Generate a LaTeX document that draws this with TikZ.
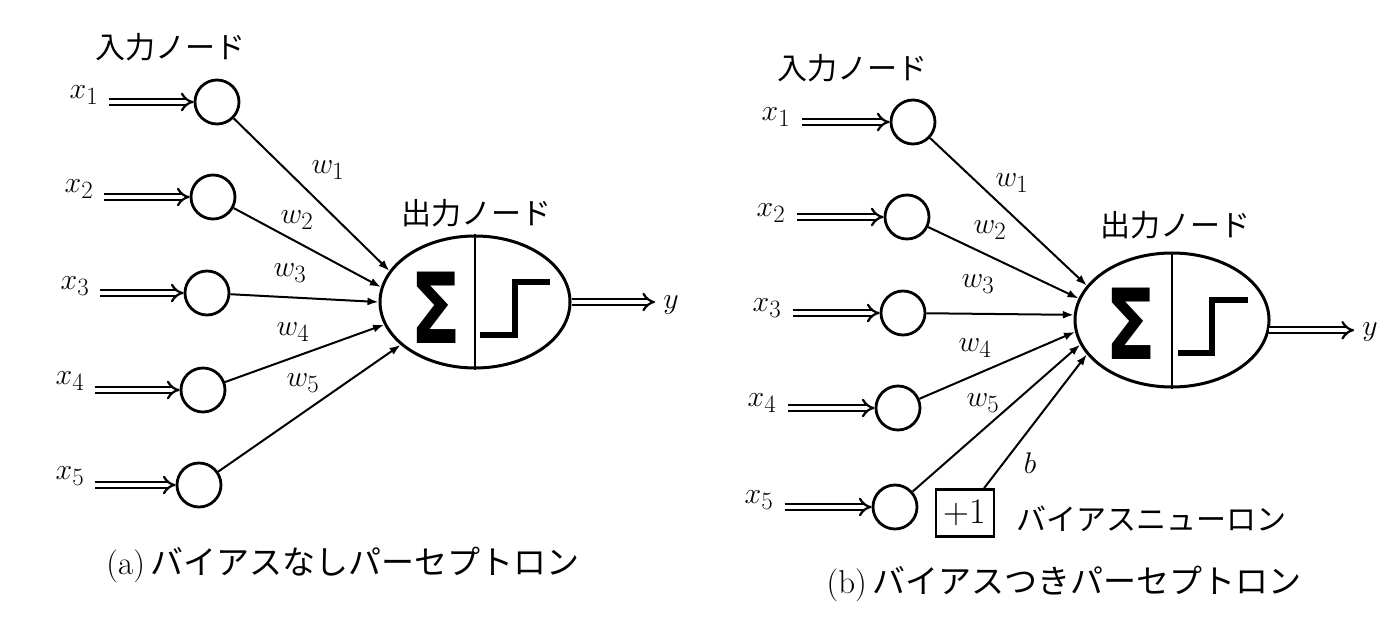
\documentclass[tikz,border=0pt]{standalone}
\usepackage{fontspec}
\newfontfamily\jp{Noto Sans CJK JP}
\newfontfamily\dvs{DejaVu Sans}
\usetikzlibrary{arrows.meta,shapes.geometric}
\begin{document}
\begin{tikzpicture}[x=1pt,y=-1pt,
 inp/.style={circle, draw, line width=2.8pt, minimum size=44pt, inner sep=0pt},
 outn/.style={ellipse, draw, line width=3pt, inner sep=0pt},
 wt/.style={arrows={-Latex[length=11pt,width=8pt]}, line width=2pt},
 dbl/.style={double, double distance=4pt, line width=2.2pt, arrows={-Implies}},
 mlab/.style={inner sep=0pt, font=\fontsize{24.88}{30}\selectfont, scale=1.2},
 jlab/.style={inner sep=0pt, font=\jp\fontsize{30}{36}\selectfont},
 captxt/.style={inner sep=0pt, font=\fontsize{33}{40}\selectfont},
 stepfn/.style={line width=6.5pt, line join=miter},
 sig/.style={inner sep=0pt, font=\dvs\bfseries\fontsize{98}{110}\selectfont, xscale=0.76},
 divl/.style={line width=2pt}
]
\useasboundingbox (0,0) rectangle (1388,628);

% ---------------- (a) ----------------
\node[jlab] (inA) at (170,47) {入力ノード};
\node[jlab] (outA) at (476,213) {出力ノード};

\node[inp] (a1) at (217,102) {};
\node[inp] (a2) at (213,197) {};
\node[inp] (a3) at (207,293) {};
\node[inp] (a4) at (203,390) {};
\node[inp] (a5) at (199,485) {};

\node[mlab] (xa1) at (84,95) {$x_1$};
\node[mlab] (xa2) at (79,189) {$x_2$};
\node[mlab] (xa3) at (75,286) {$x_3$};
\node[mlab] (xa4) at (70,381) {$x_4$};
\node[mlab] (xa5) at (70,476) {$x_5$};

\foreach \i in {1,...,5}{
  \draw[dbl, shorten <=10pt] (xa\i.east |- a\i.west) -- (a\i.west);
}

\node[outn, minimum width=190pt, minimum height=132pt] (EA) at (475,302) {};
\draw[divl] (EA.north) -- (EA.south);
\node[sig] (sA) at (436,308) {Σ};
\draw[stepfn] (480,335) -- (515,335) -- (515,282) -- (550,282);

\draw[wt] (a1) -- (EA.160);
\draw[wt] (a2) -- (EA.171);
\draw[wt] (a3) -- (EA.180);
\draw[wt] (a4) -- (EA.194);
\draw[wt] (a5) -- (EA.210);

\node[mlab] (wa1) at (328,170) {$w_1$};
\node[mlab] (wa2) at (297,220) {$w_2$};
\node[mlab] (wa3) at (290,273) {$w_3$};
\node[mlab] (wa4) at (293,332) {$w_4$};
\node[mlab] (wa5) at (303,383) {$w_5$};

\node[mlab] (yA) at (671,305) {$y$};
\draw[dbl, shorten >=8pt] (EA.east) -- (EA.east -| yA.west);

\node[captxt] (capA) at (343,565) {(a)\,{\jp バイアスなしパーセプトロン}};

% ---------------- (b) ----------------
\node[jlab] (inB) at (852,68) {入力ノード};
\node[jlab] (outB) at (1175,225) {出力ノード};

\node[inp] (b1) at (913,122) {};
\node[inp] (b2) at (907,217) {};
\node[inp] (b3) at (903,313) {};
\node[inp] (b4) at (898,408) {};
\node[inp] (b5) at (895,507) {};

\node[mlab] (xb1) at (776,117) {$x_1$};
\node[mlab] (xb2) at (771,213) {$x_2$};
\node[mlab] (xb3) at (767,308) {$x_3$};
\node[mlab] (xb4) at (762,403) {$x_4$};
\node[mlab] (xb5) at (759,500) {$x_5$};

\foreach \i in {1,...,5}{
  \draw[dbl, shorten <=11pt] (xb\i.east |- b\i.west) -- (b\i.west);
}

\node[outn, minimum width=194pt, minimum height=134pt] (EB) at (1172,320) {};
\draw[divl] (EB.north) -- (EB.south);
\node[sig] (sB) at (1131,324) {Σ};
\draw[stepfn] (1178,353) -- (1212,353) -- (1212,300) -- (1248,300);

\node[draw, line width=2.6pt, minimum width=58pt, minimum height=47pt, inner sep=0pt,
      font=\fontsize{36}{40}\selectfont] (bias) at (965,513) {+1};
\node[jlab, anchor=west] (biasl) at (1016,519) {バイアスニューロン};

\draw[wt] (b1) -- (EB.158);
\draw[wt] (b2) -- (EB.167);
\draw[wt] (b3) -- (EB.177);
\draw[wt] (b4) -- (EB.187);
\draw[wt] (b5) -- (EB.195);
\draw[wt] (bias) -- (EB.202);

\node[mlab] (wb1) at (1012,183) {$w_1$};
\node[mlab] (wb2) at (990,230) {$w_2$};
\node[mlab] (wb3) at (978,284) {$w_3$};
\node[mlab] (wb4) at (975,348) {$w_4$};
\node[mlab] (wb5) at (983,403) {$w_5$};
\node[mlab] (bb) at (1030,463) {$b$};

\node[mlab] (yB) at (1370,332) {$y$};
\draw[dbl, shorten >=8pt] (EB.-6) -- (EB.-6 -| yB.west);

\node[captxt] (capB) at (1064,584) {(b)\,{\jp バイアスつきパーセプトロン}};
\end{tikzpicture}
\end{document}
